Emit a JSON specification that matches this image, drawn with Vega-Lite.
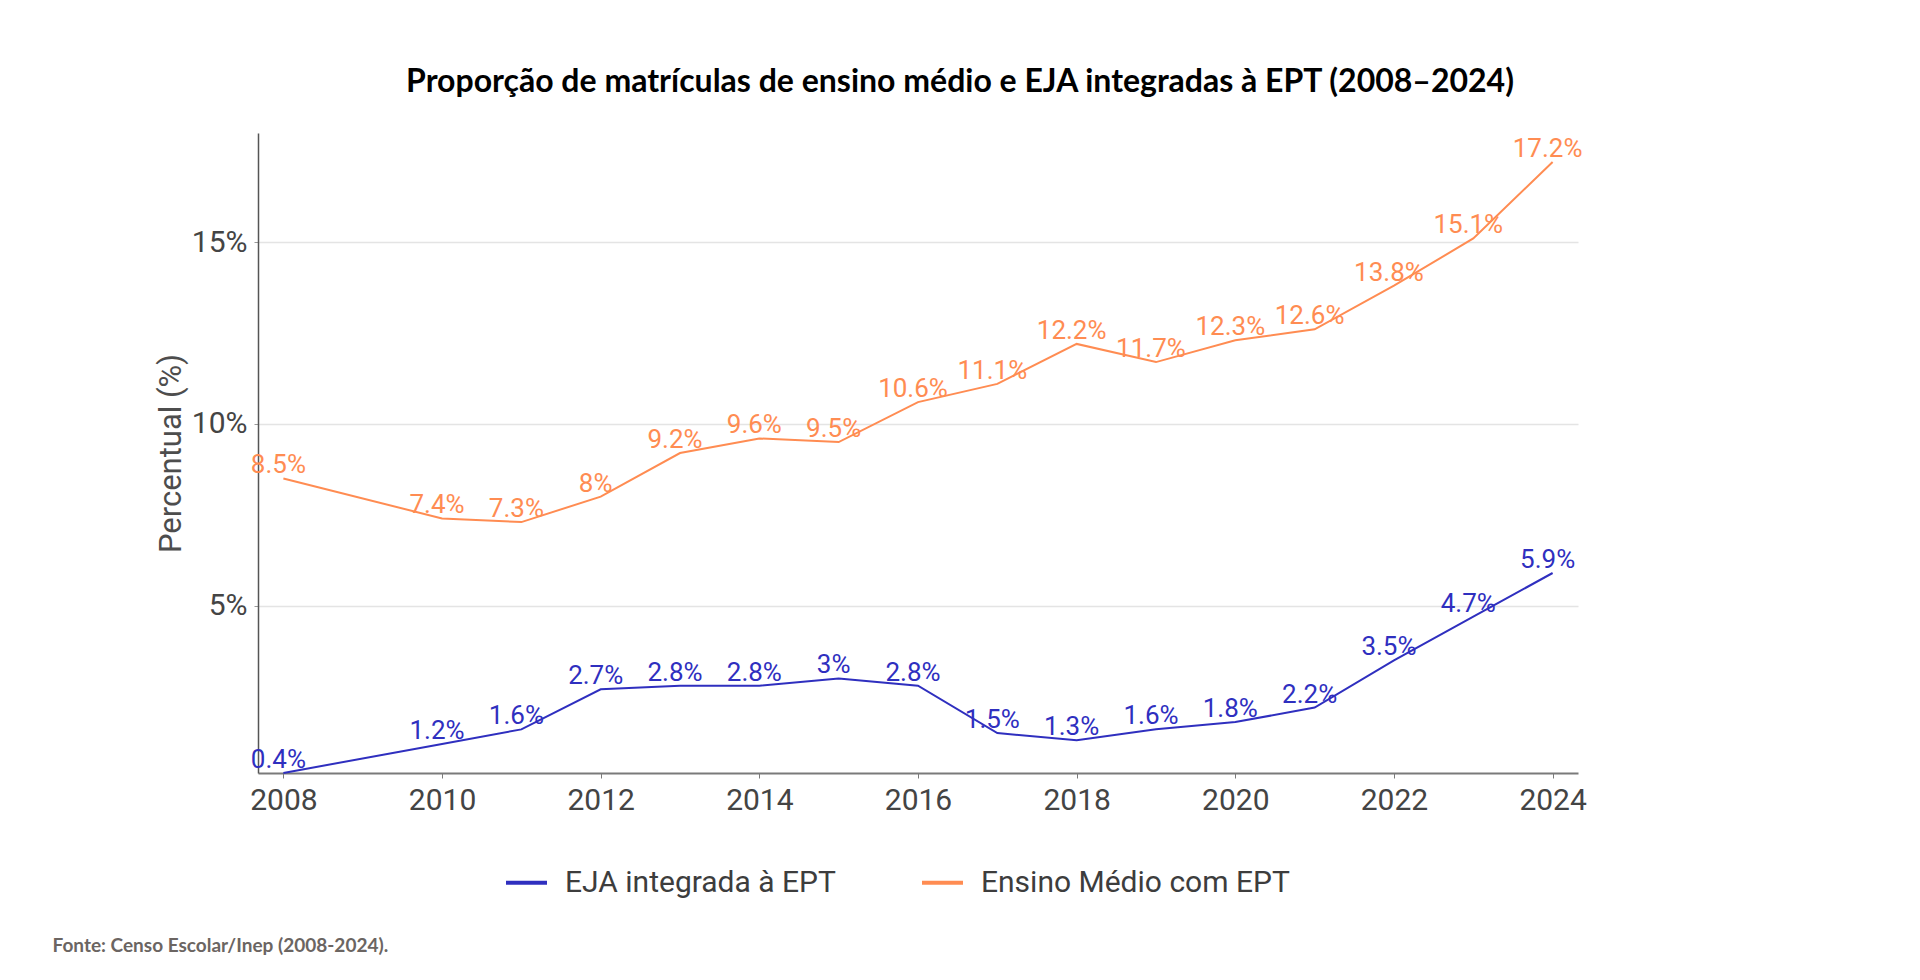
{
  "$schema": "https://vega.github.io/schema/vega-lite/v6.json",
  "width": 1320,
  "height": 640,
  "autosize": {"type": "none"},
  "padding": {"left": 258, "top": 133, "right": 342, "bottom": 207},
  "background": "white",
  "title": {
    "text": "Proporção de matrículas de ensino médio e EJA integradas à EPT (2008–2024)",
    "font": "Lato",
    "fontWeight": "bold",
    "fontSize": 32,
    "color": "#000000",
    "anchor": "middle",
    "frame": "group",
    "baseline": "alphabetic",
    "offset": 9,
    "dx": 42
  },
  "data": {
    "values": [
      {"ano": 2008, "serie": "EJA integrada à EPT", "valor": 0.4, "rotulo": "0.4%"},
      {"ano": 2010, "serie": "EJA integrada à EPT", "valor": 1.2, "rotulo": "1.2%"},
      {"ano": 2011, "serie": "EJA integrada à EPT", "valor": 1.6, "rotulo": "1.6%"},
      {"ano": 2012, "serie": "EJA integrada à EPT", "valor": 2.7, "rotulo": "2.7%"},
      {"ano": 2013, "serie": "EJA integrada à EPT", "valor": 2.8, "rotulo": "2.8%"},
      {"ano": 2014, "serie": "EJA integrada à EPT", "valor": 2.8, "rotulo": "2.8%"},
      {"ano": 2015, "serie": "EJA integrada à EPT", "valor": 3.0, "rotulo": "3%"},
      {"ano": 2016, "serie": "EJA integrada à EPT", "valor": 2.8, "rotulo": "2.8%"},
      {"ano": 2017, "serie": "EJA integrada à EPT", "valor": 1.5, "rotulo": "1.5%"},
      {"ano": 2018, "serie": "EJA integrada à EPT", "valor": 1.3, "rotulo": "1.3%"},
      {"ano": 2019, "serie": "EJA integrada à EPT", "valor": 1.6, "rotulo": "1.6%"},
      {"ano": 2020, "serie": "EJA integrada à EPT", "valor": 1.8, "rotulo": "1.8%"},
      {"ano": 2021, "serie": "EJA integrada à EPT", "valor": 2.2, "rotulo": "2.2%"},
      {"ano": 2022, "serie": "EJA integrada à EPT", "valor": 3.5, "rotulo": "3.5%"},
      {"ano": 2023, "serie": "EJA integrada à EPT", "valor": 4.7, "rotulo": "4.7%"},
      {"ano": 2024, "serie": "EJA integrada à EPT", "valor": 5.9, "rotulo": "5.9%"},
      {"ano": 2008, "serie": "Ensino Médio com EPT", "valor": 8.5, "rotulo": "8.5%"},
      {"ano": 2010, "serie": "Ensino Médio com EPT", "valor": 7.4, "rotulo": "7.4%"},
      {"ano": 2011, "serie": "Ensino Médio com EPT", "valor": 7.3, "rotulo": "7.3%"},
      {"ano": 2012, "serie": "Ensino Médio com EPT", "valor": 8.0, "rotulo": "8%"},
      {"ano": 2013, "serie": "Ensino Médio com EPT", "valor": 9.2, "rotulo": "9.2%"},
      {"ano": 2014, "serie": "Ensino Médio com EPT", "valor": 9.6, "rotulo": "9.6%"},
      {"ano": 2015, "serie": "Ensino Médio com EPT", "valor": 9.5, "rotulo": "9.5%"},
      {"ano": 2016, "serie": "Ensino Médio com EPT", "valor": 10.6, "rotulo": "10.6%"},
      {"ano": 2017, "serie": "Ensino Médio com EPT", "valor": 11.1, "rotulo": "11.1%"},
      {"ano": 2018, "serie": "Ensino Médio com EPT", "valor": 12.2, "rotulo": "12.2%"},
      {"ano": 2019, "serie": "Ensino Médio com EPT", "valor": 11.7, "rotulo": "11.7%"},
      {"ano": 2020, "serie": "Ensino Médio com EPT", "valor": 12.3, "rotulo": "12.3%"},
      {"ano": 2021, "serie": "Ensino Médio com EPT", "valor": 12.6, "rotulo": "12.6%"},
      {"ano": 2022, "serie": "Ensino Médio com EPT", "valor": 13.8, "rotulo": "13.8%"},
      {"ano": 2023, "serie": "Ensino Médio com EPT", "valor": 15.1, "rotulo": "15.1%"},
      {"ano": 2024, "serie": "Ensino Médio com EPT", "valor": 17.2, "rotulo": "17.2%"}
    ]
  },
  "encoding": {
    "x": {
      "field": "ano",
      "type": "quantitative",
      "scale": {"domain": [2007.68, 2024.32], "nice": false, "zero": false},
      "axis": {
        "values": [2008, 2010, 2012, 2014, 2016, 2018, 2020, 2022, 2024],
        "format": "d",
        "grid": false,
        "domainColor": "#7a7a7a",
        "domainWidth": 2,
        "tickColor": "#7a7a7a",
        "tickSize": 5,
        "labelPadding": 7,
        "labelFont": "Roboto",
        "labelFontSize": 30,
        "labelColor": "#444444",
        "title": "Fonte: Censo Escolar/Inep (2008-2024).",
        "titleFont": "Lato",
        "titleFontWeight": "bold",
        "titleFontSize": 19,
        "titleColor": "#6b6562",
        "titleAnchor": null,
        "titleAlign": "left",
        "titleBaseline": "alphabetic",
        "titleX": -206,
        "titleY": 178
      }
    },
    "y": {
      "field": "valor",
      "type": "quantitative",
      "scale": {"domain": [0.4, 18], "nice": false, "zero": false},
      "axis": {
        "values": [5, 10, 15],
        "labelExpr": "datum.value + '%'",
        "gridColor": "#e4e4e4",
        "gridWidth": 1.5,
        "domainColor": "#555555",
        "domainWidth": 1.5,
        "tickColor": "#999999",
        "tickSize": 4,
        "labelPadding": 7,
        "labelFont": "Roboto",
        "labelFontSize": 30,
        "labelColor": "#444444",
        "title": "Percentual (%)",
        "titleFont": "Roboto",
        "titleFontWeight": "normal",
        "titleFontSize": 31,
        "titleColor": "#4d4d4d",
        "titlePadding": 4
      }
    },
    "color": {
      "field": "serie",
      "type": "nominal",
      "scale": {
        "domain": ["EJA integrada à EPT", "Ensino Médio com EPT"],
        "range": ["#2f2fbf", "#ff8c52"]
      },
      "legend": {
        "title": null,
        "orient": "none",
        "direction": "horizontal",
        "legendX": 246,
        "legendY": 727,
        "symbolType": "stroke",
        "symbolSize": 1681,
        "symbolStrokeWidth": 4,
        "labelFont": "Roboto",
        "labelFontSize": 30,
        "labelColor": "#3d3d3d",
        "labelOffset": 16,
        "labelLimit": 500,
        "columnPadding": 78
      }
    }
  },
  "layer": [
    {
      "mark": {"type": "line", "strokeWidth": 2}
    },
    {
      "mark": {
        "type": "text",
        "font": "Roboto",
        "fontSize": 26,
        "align": "center",
        "baseline": "alphabetic",
        "dx": -5,
        "dy": -5
      },
      "encoding": {
        "text": {"field": "rotulo"}
      }
    }
  ],
  "config": {
    "view": {"stroke": null}
  }
}
